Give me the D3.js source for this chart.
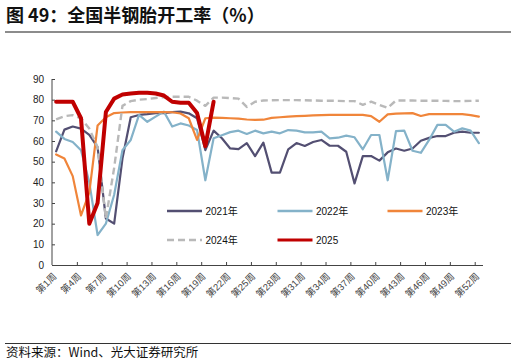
<!DOCTYPE html>
<html><head><meta charset="utf-8">
<script src="https://cdn.jsdelivr.net/npm/d3@7"></script>
<style>body{margin:0;background:#fff}</style>
</head><body>
<svg id="c" width="516" height="364"></svg>
<script>
const weeks = d3.range(1, 53).map(i => "第" + i + "周");
const labelWeeks = d3.range(1, 53, 3).map(i => "第" + i + "周");
const yTicks = [0, 10, 20, 30, 40, 50, 60, 70, 80, 90];
const s2021 = [55,65.5,67,66,63,57,22.5,20,51.5,71.5,72.6,73,73.5,73.5,74,74.2,73.4,71,55.6,65,61.3,56.4,56.1,59,52.7,59.2,44.7,44.7,56,59,57.6,59.5,60.5,57.7,57.7,54.8,39.5,52.7,52.7,50.5,54.5,56.4,55.3,56.4,60.1,61.5,62.4,62.4,64,64.5,64,64];
const s2022 = [64.5,61,59.5,55.5,40,14.5,20,34,55.5,60.5,72.6,69.3,71.8,74.2,67,68.5,67.5,65.3,41,61.3,62.8,64.3,65,63.4,65,63.7,64.5,63.7,65.3,65,64.2,64.2,64.5,61.3,61.6,62.6,61.8,56,62.9,62.9,41,64.8,65,55.3,54.3,60.5,67.8,67.8,64.5,66.1,65,59];
const s2023 = [53.5,51.5,43,24,35,67.5,71.5,73.5,73.8,74,74,74,74,74,73.9,73.3,71,60.5,71,71.3,71.2,71,70.8,70.4,70.2,70.3,71.2,71.5,71.8,72,72.2,72.4,72.5,72.6,72.6,72.6,72.6,72.6,72,69.3,72.9,73.2,73.4,73.5,72.1,73,73,73,73,73,72.5,71.8];
const s2024 = [70.5,72,72.5,71,66,57,22.5,47,77,79.3,80,80.3,80.8,81.2,81.4,81.4,81.4,79.5,77,81,81,80.8,80.5,76.5,79,79.6,79.7,79.8,79.8,79.8,79.7,79.6,79.5,79.5,79.4,79.3,79.3,77.5,79,77.5,76,79.6,79.6,79.6,79.5,79.5,79.5,79.4,79.3,79.3,79.4,79.5];
const s2025 = [79,79,79,71,20,30,74,80.5,82.5,83,83.3,83.3,83,82,79,78.5,78.5,73.5,57.5,79];
const seriesNames = ["2021年", "2022年", "2023年", "2024年", "2025"];
const seriesData = [s2021, s2022, s2023, s2024, s2025];
const styles = [
  {color: "#534f72", width: 2.2, dash: null, lw: 2.4},
  {color: "#84b2c9", width: 2.2, dash: null, lw: 2.4},
  {color: "#f0853a", width: 2.2, dash: null, lw: 2.4},
  {color: "#b9b9b9", width: 2.4, dash: "7,4", lw: 2.4},
  {color: "#c00000", width: 4, dash: null, lw: 3.2}
];

const svg = d3.select("#c");
const fontLatin = "'Liberation Sans', Arial, 'Noto Sans CJK SC', sans-serif";
const fontCJK = "'Noto Sans CJK SC', 'Liberation Sans', sans-serif";

// title
svg.append("text").attr("x", 6).attr("y", 22).attr("font-family", fontCJK)
  .attr("font-weight", "bold").attr("font-size", 18).attr("fill", "#111")
  .text("图 49：全国半钢胎开工率（%）");
svg.append("line").attr("x1", 5).attr("x2", 511).attr("y1", 32).attr("y2", 32)
  .attr("stroke", "#8c8c8c").attr("stroke-width", 2);

// footer
svg.append("line").attr("x1", 5).attr("x2", 511).attr("y1", 343.5).attr("y2", 343.5)
  .attr("stroke", "#333").attr("stroke-width", 1);
svg.append("text").attr("x", 6).attr("y", 357).attr("font-family", fontCJK)
  .attr("font-size", 12.5).attr("fill", "#111")
  .text("资料来源：Wind、光大证券研究所");

const x = d3.scaleBand().domain(weeks).range([52, 483]).padding(0);
const y = d3.scaleLinear().domain([0, 90]).range([265, 79]);

// y axis
const ya = svg.append("g").attr("transform", "translate(52,0)")
  .call(d3.axisLeft(y).tickValues(yTicks).tickSize(-3).tickPadding(8));
ya.select(".domain").attr("stroke", "#444").attr("d", "M0," + y(90) + "V" + y(0));
ya.selectAll(".tick line").attr("stroke", "#444");
ya.selectAll("text").attr("font-family", fontLatin).attr("font-size", 10).attr("fill", "#222");

// x axis
const xa = svg.append("g").attr("transform", "translate(0,265)")
  .call(d3.axisBottom(x).tickValues(labelWeeks).tickSize(0).tickFormat(""));
xa.select(".domain").attr("stroke", "#444").attr("d", "M52,0.5H483");
weeks.forEach((w, i) => {
  if (i > 0 && i % 3 === 0) {
    xa.append("line").attr("x1", x(w) + 0.5).attr("x2", x(w) + 0.5)
      .attr("y1", 0).attr("y2", -3).attr("stroke", "#444");
  }
});
labelWeeks.forEach(w => {
  const cx = x(w) + x.bandwidth() / 2 + 1;
  svg.append("text").attr("transform", `translate(${cx},277) rotate(-45)`)
    .attr("text-anchor", "end").attr("font-family", fontLatin)
    .attr("font-size", 9.5).attr("fill", "#444").text(w);
});

// lines
const line = d3.line().x((d, i) => x(weeks[i]) + x.bandwidth() / 2).y(d => y(d));
seriesData.forEach((data, k) => {
  const st = styles[k];
  svg.append("path").datum(data).attr("d", line).attr("fill", "none")
    .attr("stroke", st.color).attr("stroke-width", st.width)
    .attr("stroke-linejoin", "round")
    .attr("stroke-linecap", st.dash ? "butt" : "round")
    .attr("stroke-dasharray", st.dash);
});

// legend
const legPos = [[167, 211], [277.5, 211], [387.5, 211], [167, 240], [277.5, 240]];
seriesNames.forEach((name, k) => {
  const st = styles[k];
  const [lx, ly] = legPos[k];
  svg.append("line").attr("x1", lx).attr("x2", lx + 35).attr("y1", ly).attr("y2", ly)
    .attr("stroke", st.color).attr("stroke-width", st.lw)
    .attr("stroke-dasharray", st.dash);
  svg.append("text").attr("x", lx + 38.5).attr("y", ly + 3.8)
    .attr("font-family", fontLatin).attr("font-size", 10).attr("fill", "#111").text(name);
});
</script>
</body></html>
